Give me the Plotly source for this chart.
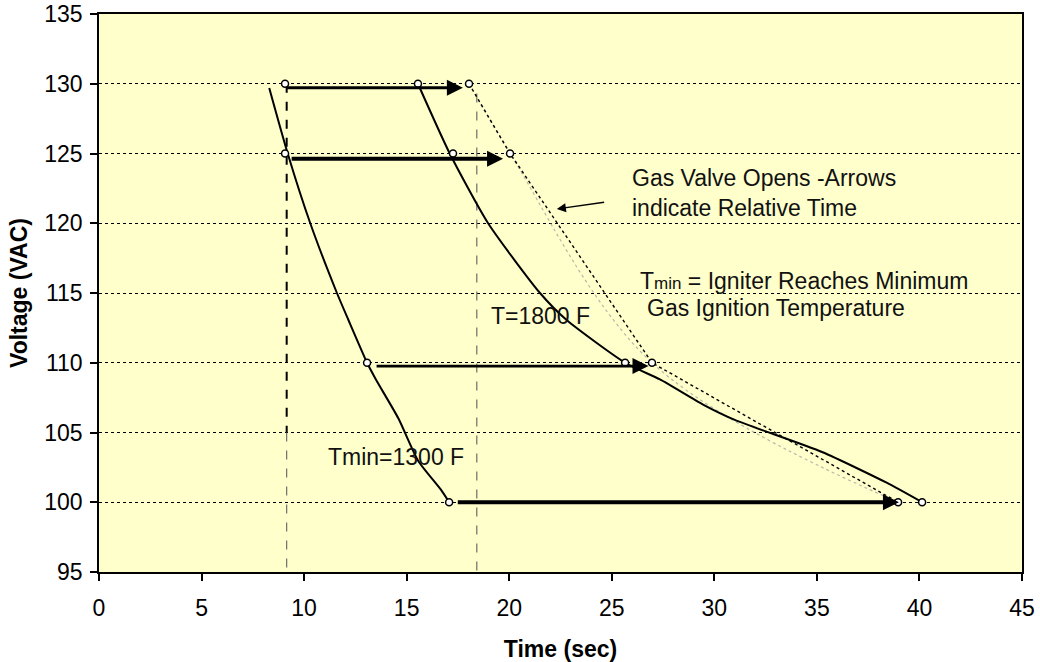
import plotly.graph_objects as go

# ---- data ----
volt_levels = [130, 125, 110, 100]
tmin_pts_x = [9.07, 9.07, 13.07, 17.07]          # Tmin=1300 F reached
t1800_pts_x = [15.55, 17.26, 25.65, 40.13]       # T=1800 F reached
valve_pts_x = [18.04, 20.04, 26.96, 38.96]       # gas valve opens

tmin_curve_x = [8.3, 9.2, 10.3, 11.6, 12.15, 13.07, 13.5, 14.6, 15.55, 16.67, 17.07]
tmin_curve_y = [129.7, 125, 120, 115, 113.1, 110, 108.8, 106, 103, 100.9, 100]

t1800_curve_x = [15.55, 17.1, 18.97, 21.5, 22.8, 25.65, 27.35, 29.45, 31.0, 35.25, 38.4, 40.13]
t1800_curve_y = [130, 125, 120, 115, 113.06, 110, 108.8, 107, 105.9, 103.6, 101.4, 100]

arrow_from_x = [9.1, 9.32, 13.46, 17.42]
arrow_to_x = [17.74, 19.7, 26.79, 39.0]
arrow_y = [129.72, 124.62, 109.76, 100.0]

vline_x = [9.15, 18.42]
vline_top = [130, 129.3]
vline_split = 105

x_ticks = [0, 5, 10, 15, 20, 25, 30, 35, 40, 45]
y_ticks = [95, 100, 105, 110, 115, 120, 125, 130, 135]

FONT = "Liberation Sans, Arial, sans-serif"

fig = go.Figure()

# vertical reference lines
fig.add_trace(go.Scatter(x=[vline_x[0], vline_x[0]], y=[vline_top[0], vline_split], mode="lines",
                         line=dict(color="black", width=2, dash="dash"), showlegend=False, hoverinfo="skip"))
fig.add_trace(go.Scatter(x=[vline_x[0], vline_x[0]], y=[vline_split, 95], mode="lines",
                         line=dict(color="#606060", width=1.1, dash="dash"), showlegend=False, hoverinfo="skip"))
fig.add_trace(go.Scatter(x=[vline_x[1], vline_x[1]], y=[vline_top[1], 95], mode="lines",
                         line=dict(color="#606060", width=1.1, dash="dash"), showlegend=False, hoverinfo="skip"))

# valve-open line (grey smoothed underlay + black dotted)
fig.add_trace(go.Scatter(x=valve_pts_x, y=volt_levels, mode="lines",
                         line=dict(color="#b8b8a8", width=1.2, dash="dot", shape="spline"),
                         showlegend=False, hoverinfo="skip"))
fig.add_trace(go.Scatter(x=valve_pts_x, y=volt_levels, mode="lines",
                         line=dict(color="black", width=1.4, dash="dot"),
                         showlegend=False, hoverinfo="skip"))

# solid curves
fig.add_trace(go.Scatter(x=tmin_curve_x, y=tmin_curve_y, mode="lines",
                         line=dict(color="black", width=2, shape="spline", smoothing=0.6),
                         showlegend=False, hoverinfo="skip"))
fig.add_trace(go.Scatter(x=t1800_curve_x, y=t1800_curve_y, mode="lines",
                         line=dict(color="black", width=2, shape="spline", smoothing=0.6),
                         showlegend=False, hoverinfo="skip"))

# arrows
widths = [3, 4, 2.6, 4.2]
for x0, x1, yy, w in zip(arrow_from_x, arrow_to_x, arrow_y, widths):
    fig.add_annotation(x=x1, y=yy, ax=x0, ay=yy, xref="x", yref="y", axref="x", ayref="y",
                       text="", showarrow=True, arrowhead=2, arrowwidth=w, arrowsize=3.2 / w,
                       arrowcolor="black", standoff=0, startstandoff=0)

# open circle markers
for xs in (tmin_pts_x, t1800_pts_x, valve_pts_x):
    fig.add_trace(go.Scatter(x=xs, y=volt_levels, mode="markers",
                             marker=dict(symbol="circle", size=7, color="white",
                                         line=dict(color="black", width=1.5)),
                             showlegend=False, hoverinfo="skip"))

# text annotations
tf = dict(family=FONT, size=23, color="#111111")
fig.add_annotation(x=25.9, y=122.2, xref="x", yref="y", text="Gas Valve Opens -Arrows<br>indicate Relative Time",
                   showarrow=False, xanchor="left", yanchor="middle", align="left", font=tf)
fig.add_annotation(x=22.32, y=121.02, ax=24.7, ay=121.52, xref="x", yref="y", axref="x", ayref="y",
                   text="", showarrow=True, arrowhead=2, arrowwidth=1.3, arrowsize=1.4, arrowcolor="black")
fig.add_annotation(x=26.27, y=115.85, xref="x", yref="y",
                   text="T<span style='font-size:17px'>min</span> = Igniter Reaches Minimum",
                   showarrow=False, xanchor="left", yanchor="middle", font=tf)
fig.add_annotation(x=26.6, y=113.9, xref="x", yref="y", text="Gas Ignition Temperature",
                   showarrow=False, xanchor="left", yanchor="middle", font=tf)
fig.add_annotation(x=19.0, y=113.35, xref="x", yref="y", text="T=1800 F",
                   showarrow=False, xanchor="left", yanchor="middle", font=tf)
fig.add_annotation(x=11.05, y=103.24, xref="x", yref="y", text="Tmin=1300 F",
                   showarrow=False, xanchor="left", yanchor="middle", font=tf)

axis_common = dict(showline=True, linecolor="black", linewidth=1.5, mirror=True,
                   ticks="outside", ticklen=7, tickwidth=1.5, tickcolor="black",
                   zeroline=False, automargin=False,
                   tickfont=dict(family=FONT, size=23, color="black"))

fig.update_xaxes(range=[0, 45], tickvals=x_ticks, showgrid=False, ticklabelstandoff=8,
                 title=dict(text="<b>Time (sec)</b>", font=dict(family=FONT, size=23, color="black"), standoff=28),
                 **axis_common)
fig.update_yaxes(range=[95, 135], tickvals=y_ticks, showgrid=True, gridcolor="black", gridwidth=1.2,
                 griddash="dot", ticklabelstandoff=3,
                 title=dict(text="<b>Voltage (VAC)</b>", font=dict(family=FONT, size=23, color="black"), standoff=10),
                 **axis_common)

fig.update_layout(width=1040, height=662, margin=dict(l=99, r=18, t=14, b=90),
                  paper_bgcolor="white", plot_bgcolor="#FFFFCC",
                  font=dict(family=FONT, color="black"), showlegend=False)

# remove the default 8px page margin so the 1040x662 figure fills the window exactly
fig.write_html("out.html", config={"displayModeBar": False},
               post_script="document.body.style.margin='0';document.body.style.overflow='hidden';")
